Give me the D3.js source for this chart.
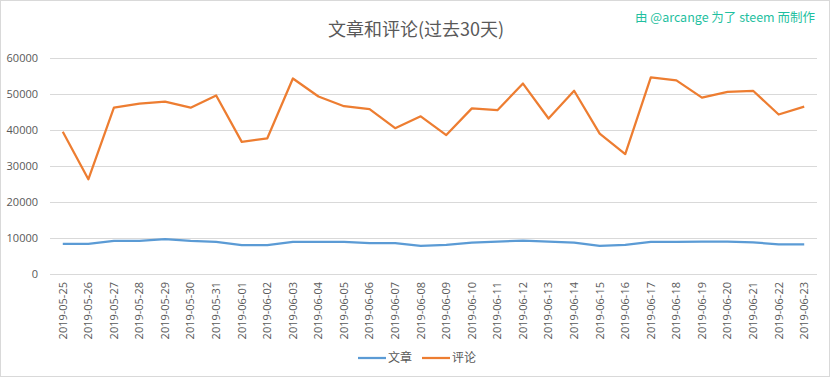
<!DOCTYPE html>
<html lang="zh">
<head>
  <meta charset="UTF-8">
  <title>文章和评论(过去30天)</title>
  <script src="https://cdn.jsdelivr.net/npm/d3@7"></script>
  <style>
    body { margin: 0; background: #fff; }
    text { font-family: "Noto Sans CJK SC", "Noto Sans", sans-serif; }
  </style>
</head>
<body>
<svg></svg>
<script>
  const width = 832, height = 378
  const margin = {top: 58, right: 15, bottom: 104, left: 50}

  const dates = ['2019-05-25', '2019-05-26', '2019-05-27', '2019-05-28', '2019-05-29', '2019-05-30', '2019-05-31',
    '2019-06-01', '2019-06-02', '2019-06-03', '2019-06-04', '2019-06-05', '2019-06-06', '2019-06-07', '2019-06-08',
    '2019-06-09', '2019-06-10', '2019-06-11', '2019-06-12', '2019-06-13', '2019-06-14', '2019-06-15', '2019-06-16',
    '2019-06-17', '2019-06-18', '2019-06-19', '2019-06-20', '2019-06-21', '2019-06-22', '2019-06-23']
  const posts = [8400, 8400, 9200, 9200, 9700, 9200, 8900, 8000, 8000, 8900, 8900, 8900, 8600, 8600, 7800,
    8100, 8700, 9000, 9300, 9000, 8700, 7800, 8100, 8900, 8900, 9000, 9000, 8800, 8200, 8200]
  const comments = [39500, 26300, 46200, 47300, 47900, 46200, 49600, 36700, 37700, 54300, 49300, 46600, 45800, 40500, 43800,
    38600, 46000, 45500, 52900, 43200, 50900, 39000, 33300, 54600, 53800, 49000, 50600, 50900, 44300, 46500]
  const yTicks = [0, 10000, 20000, 30000, 40000, 50000, 60000]
  const seriesNames = ['文章', '评论']
  const colors = ['#5b9bd5', '#ed7d31']

  const svg = d3.select('svg')
      .attr('width', width)
      .attr('height', height)

  // 外框
  svg.append('rect')
      .attr('x', 0.5).attr('y', 0.5)
      .attr('width', width - 3).attr('height', height - 2)
      .attr('fill', '#fff')
      .attr('stroke', '#d9d9d9')

  const x = d3.scaleBand()
      .domain(dates)
      .range([margin.left, width - margin.right])

  const y = d3.scaleLinear()
      .domain([0, 60000])
      .range([height - margin.bottom, margin.top])

  // 网格线
  svg.append('g')
      .selectAll('line')
      .data(yTicks)
      .join('line')
      .attr('x1', margin.left)
      .attr('x2', width - margin.right)
      .attr('y1', d => Math.round(y(d)) + 0.5)
      .attr('y2', d => Math.round(y(d)) + 0.5)
      .attr('stroke', '#d9d9d9')

  // Y轴
  svg.append('g')
      .attr('transform', `translate(${margin.left - 12},0)`)
      .call(d3.axisLeft(y).tickValues(yTicks).tickFormat(d3.format('d')).tickSize(0).tickPadding(0))
      .call(g => g.select('.domain').remove())
      .call(g => g.selectAll('text')
          .attr('fill', '#595959')
          .style('font-size', '11px')
          .style('font-family', '"Open Sans", sans-serif'))

  // X轴
  svg.append('g')
      .attr('transform', `translate(0,${height - margin.bottom})`)
      .call(d3.axisBottom(x).tickSize(0).tickPadding(0))
      .call(g => g.select('.domain').remove())
      .call(g => g.selectAll('text')
          .attr('fill', '#595959')
          .attr('transform', 'rotate(-90)')
          .attr('text-anchor', 'end')
          .attr('x', -8)
          .attr('y', 0)
          .attr('dy', '0.35em')
          .style('font-size', '11px')
          .style('font-family', '"Open Sans", sans-serif'))

  const line = d3.line()
      .x((d, i) => x(dates[i]) + x.bandwidth() / 2)
      .y(d => y(d))

  ;[posts, comments].forEach((values, i) => {
    svg.append('path')
        .attr('fill', 'none')
        .attr('stroke', colors[i])
        .attr('stroke-width', 2.25)
        .attr('stroke-linejoin', 'round')
        .attr('d', line(values))
  })

  // 标题
  svg.append('text')
      .attr('x', 416)
      .attr('y', 36)
      .attr('text-anchor', 'middle')
      .attr('fill', '#595959')
      .style('font-size', '18px')
      .text('文章和评论(过去30天)')

  svg.append('text')
      .attr('x', 815)
      .attr('y', 22)
      .attr('text-anchor', 'end')
      .attr('fill', '#1fbfa0')
      .style('font-size', '12.5px')
      .text('由 @arcange 为了 steem 而制作')

  // 图例
  const legend = svg.append('g')
      .attr('transform', 'translate(358,358)')
  seriesNames.forEach((name, i) => {
    const g = legend.append('g').attr('transform', `translate(${i * 64},0)`)
    g.append('line')
        .attr('x1', 0).attr('x2', 28)
        .attr('stroke', colors[i])
        .attr('stroke-width', 2.25)
    g.append('text')
        .attr('x', 30)
        .attr('dy', '0.35em')
        .attr('fill', '#595959')
        .style('font-size', '12px')
        .text(name)
  })
</script>
</body>
</html>
